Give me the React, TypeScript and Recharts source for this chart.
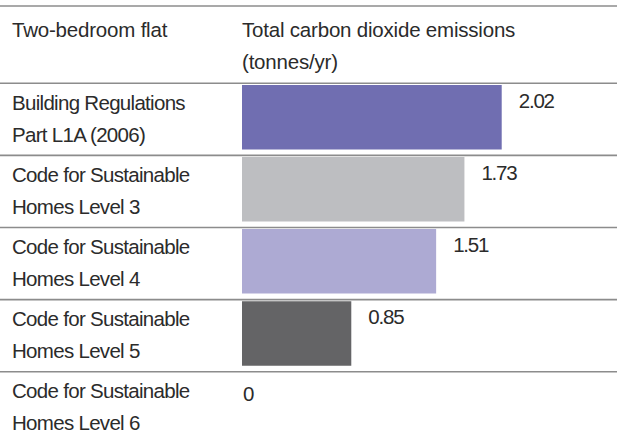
import { Bar, BarChart, Cell, Customized, LabelList, XAxis, YAxis } from "recharts";

const labelLine1 = [
  "Building Regulations",
  "Code for Sustainable",
  "Code for Sustainable",
  "Code for Sustainable",
  "Code for Sustainable",
];
const labelLine2 = [
  "Part L1A (2006)",
  "Homes Level 3",
  "Homes Level 4",
  "Homes Level 5",
  "Homes Level 6",
];
const emissions = [2.02, 1.73, 1.51, 0.85, 0];
const barColors = ["#706eb1", "#bdbec1", "#adaad3", "#646466", "transparent"];

const rowTitle = "Two-bedroom flat";
const valueTitle = ["Total carbon dioxide emissions", "(tonnes/yr)"];

const data = emissions.map((value, i) => ({
  name: `${labelLine1[i]}|${labelLine2[i]}`,
  value,
}));

const FONT = '"Liberation Sans", Arial, sans-serif';
const TEXT = "#2b2b2b";
const RULE = "#8c8c8c";
const BAND = 72.1;

function RowTick({ y, payload }: any) {
  const [first, second] = String(payload.value).split("|");
  const top = y - BAND / 2 + 2.4;
  return (
    <g fontFamily={FONT} fill={TEXT} fontSize={20.5} letterSpacing={-0.7}>
      <line x1={0} x2={617} y1={top} y2={top} stroke={RULE} strokeWidth={1.6} />
      <text x={12} y={top + 26.5}>
        {first}
      </text>
      <text x={12} y={top + 58.6}>
        {second}
      </text>
    </g>
  );
}

// zero bar gets 1px via minPointSize so its label is still drawn
function ValueLabel({ x, y, width, value }: any) {
  const zero = value === 0;
  return (
    <text
      x={zero ? x + 1 : x + width + 17}
      y={y + 23 + (zero ? 5 : 0)}
      fontSize={20.5}
      letterSpacing={-1.2}
      fill={TEXT}
      fontFamily={FONT}
    >
      {value}
    </text>
  );
}

function Header() {
  return (
    <g fontFamily={FONT} fill={TEXT} fontSize={20.5} letterSpacing={-0.2}>
      <line x1={0} x2={617} y1={6} y2={6} stroke={RULE} strokeWidth={1.6} />
      <text x={12} y={36.7}>
        {rowTitle}
      </text>
      <text x={242} y={36.7}>
        {valueTitle[0]}
      </text>
      <text x={242} y={69}>
        {valueTitle[1]}
      </text>
    </g>
  );
}

export default function App() {
  return (
    <div style={{ position: "absolute", left: 0, top: 0, background: "#fff" }}>
      <BarChart
        width={617}
        height={444}
        data={data}
        layout="vertical"
        margin={{ top: 80.9, right: 15, bottom: 2.6, left: 0 }}
      >
        <XAxis type="number" domain={[0, 2.8]} hide />
        <YAxis
          type="category"
          dataKey="name"
          width={242}
          axisLine={false}
          tickLine={false}
          interval={0}
          tick={<RowTick />}
        />
        <Bar dataKey="value" barSize={64.5} minPointSize={1} isAnimationActive={false}>
          {data.map((d, i) => (
            <Cell key={d.name + i} fill={barColors[i]} />
          ))}
          <LabelList dataKey="value" content={<ValueLabel />} />
        </Bar>
        <Customized component={<Header />} />
      </BarChart>
    </div>
  );
}
